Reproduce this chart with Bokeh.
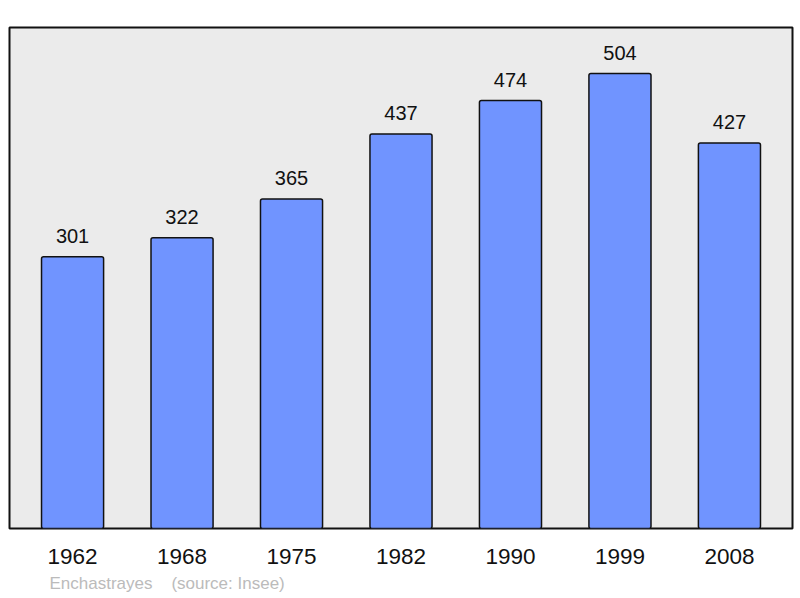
from bokeh.plotting import figure
from bokeh.models import ColumnDataSource, FixedTicker, Range1d, Title
from bokeh.core.properties import value
from bokeh.embed import file_html
from bokeh.resources import INLINE

years = ["1962", "1968", "1975", "1982", "1990", "1999", "2008"]
population = [301, 322, 365, 437, 474, 504, 427]
footer = "Enchastrayes\u00a0\u00a0\u00a0\u00a0(source: Insee)"

xs = list(range(len(years)))
src = ColumnDataSource(dict(x=xs, pop=population, lab=[str(v) for v in population]))

p = figure(width=800, height=598, output_backend="svg", toolbar_location=None,
           x_range=Range1d(-0.576, len(years) - 1 + 0.576), y_range=Range1d(0, 555),
           min_border_left=9, min_border_right=8, min_border_top=27, min_border_bottom=0)

p.background_fill_color = "#ebebeb"
p.border_fill_color = "white"
p.outline_line_color = "#111111"
p.outline_line_width = 2
p.grid.visible = False
p.yaxis.visible = False

p.vbar(x="x", top="pop", width=0.567, source=src, fill_color="#7094ff",
       line_color="#111111", line_width=1.5, border_radius=2)
p.text(x="x", y="pop", text="lab", source=src, text_align="center",
       text_baseline="bottom", y_offset=-14, text_font=value("Liberation Sans"),
       text_font_size="20px", text_color="#111111")

ax = p.xaxis[0]
ax.ticker = FixedTicker(ticks=xs)
ax.major_label_overrides = {i: y for i, y in enumerate(years)}
ax.axis_line_color = None
ax.major_tick_line_color = None
ax.minor_tick_line_color = None
ax.major_label_standoff = 14
ax.major_label_text_font = "Liberation Sans"
ax.major_label_text_font_size = "22.5px"
ax.major_label_text_color = "#111111"

t = Title(text=footer, align="left", text_color="#bbbbbb", text_font_size="17px",
          text_font="Liberation Sans", text_font_style="normal", offset=40, standoff=11)
p.add_layout(t, "below")

open("out.html", "w").write(file_html(p, INLINE))
